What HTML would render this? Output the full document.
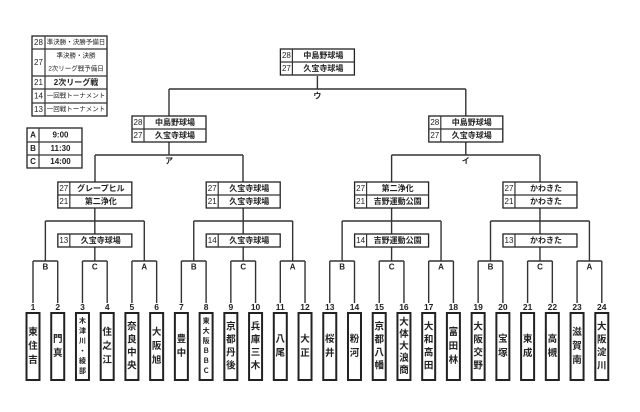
<!DOCTYPE html>
<html><head><meta charset="utf-8"><style>
html,body{margin:0;padding:0;background:#fff;width:640px;height:412px;overflow:hidden}
svg{display:block}
text{font-family:"Liberation Sans","Noto Sans CJK JP",sans-serif;fill:#222}
</style></head><body>
<svg id="s" width="640" height="412" viewBox="0 0 640 412" xmlns="http://www.w3.org/2000/svg"></svg>
<script>
const s=document.getElementById('s');let h='';
const L=(x1,y1,x2,y2,w)=>h+=`<line x1="${x1}" y1="${y1}" x2="${x2}" y2="${y2}" stroke="#333" stroke-width="${w||1.4}"/>`;
const R=(x,y,w,hh,sw)=>h+=`<rect x="${x}" y="${y}" width="${w}" height="${hh}" fill="#fff" stroke="#222" stroke-width="${sw||1.3}"/>`;
const T=(x,y,t,fs,b)=>h+=`<text x="${x}" y="${y}" font-size="${fs||8}" text-anchor="middle" dominant-baseline="central" ${b?'font-weight="bold"':''}>${t}</text>`;
function box2(cx,y,r){const x=cx-37;R(x,y,74,26);L(x,y+13,x+74,y+13,1.2);L(x+12,y,x+12,y+26,1.2);
 r.forEach((a,i)=>{T(x+6,y+6.5+i*13,a[0],8);T(x+43,y+6.5+i*13,a[1],8,1);});}
function box1(cx,y,n,t){const x=cx-37;R(x,y,74,13);L(x+12,y,x+12,y+13,1.2);T(x+6,y+6.5,n,8);T(x+43,y+6.5,t,8,1);}
const cx=i=>33+(i-1)*24.73;
const names=["東住吉","門真","木津川・綾部","住之江","奈良中央","大阪旭","豊中","東大阪ＢＢＣ","京都丹後","兵庫三木","八尾","大正","桜井","粉河","京都八幡","大体大浪商","大和高田","富田林","大阪交野","宝塚","東成","高槻","滋賀南","大阪淀川"];
L(317.4,76,317.4,89);L(169,89,465.8,89);L(169,89,169,116);L(465.8,89,465.8,116);T(317.4,96,"ウ",8,1);
L(169,142,169,155);L(95,155,243,155);L(95,155,95,182);L(243,155,243,182);T(169,161,"ア",8,1);
L(465.8,142,465.8,155);L(391.6,155,540,155);L(391.6,155,391.6,182);L(540,155,540,182);T(465.8,161,"イ",8,1);
const g=[[["27","グレープヒル"],["21","第二浄化"],"13","久宝寺球場"],[["27","久宝寺球場"],["21","久宝寺球場"],"14","久宝寺球場"],[["27","第二浄化"],["21","吉野運動公園"],"14","吉野運動公園"],[["27","かわきた"],["21","かわきた"],"13","かわきた"]];
for(let k=0;k<4;k++){const b=k*6+1;const c=(cx(b+2)+cx(b+3))/2,pB=(cx(b)+cx(b+1))/2,pA=(cx(b+4)+cx(b+5))/2;
 L(c,207,c,234);L(pB,221,pA,221);L(pB,221,pB,261);L(pA,221,pA,261);L(c,247,c,261);
 box2(c,182,[g[k][0],g[k][1]]);box1(c,234,g[k][2],g[k][3]);
 ["B","C","A"].forEach((l,j)=>{const a=cx(b+2*j),d=cx(b+2*j+1);L(a,261,d,261);L(a,261,a,303);L(d,261,d,303);T((a+d)/2,267,l,8,1);});
}
box2(169,116,[["28","中島野球場"],["27","久宝寺球場"]]);
box2(465.8,116,[["28","中島野球場"],["27","久宝寺球場"]]);
box2(317.4,49,[["28","中島野球場"],["27","久宝寺球場"]]);
for(let i=1;i<=24;i++){const x=cx(i);T(x,307,i,8.5,1);R(x-6.5,313,13,67,2);
 const ch=[...names[i-1]];const n=ch.length;const sp=n<=3?14:n<=4?13:n<=5?12:10;const fs=n<=5?9.5:7;
 const y0=346.5-(n-1)*sp/2;ch.forEach((c,j)=>T(x,y0+j*sp,c,fs,1));}
R(32,36,75,80);[49,76,89,103].forEach(y=>L(32,y,107,y,1.2));L(45,36,45,116,1.2);
T(38.5,42.5,"28",8);T(76,42.5,"準決勝・決勝予備日",6.5);
T(38.5,62.5,"27",8);T(76,56,"準決勝・決勝",6.5);T(76,69,"2次リーグ戦予備日",6.5);
T(38.5,82.5,"21",8);T(76,82.5,"2次リーグ戦",8,1);
T(38.5,96,"14",8);T(76,96,"一回戦トーナメント",6.5);
T(38.5,109.5,"13",8);T(76,109.5,"一回戦トーナメント",6.5);
R(27,128,55,40);[142,155].forEach(y=>L(27,y,82,y,1.2));L(39,128,39,168,1.2);
T(33,135,"A",8,1);T(60.5,135,"9:00",8,1);T(33,148.5,"B",8,1);T(60.5,148.5,"11:30",8,1);T(33,161.5,"C",8,1);T(60.5,161.5,"14:00",8,1);
s.innerHTML=h;
</script>
</body></html>
